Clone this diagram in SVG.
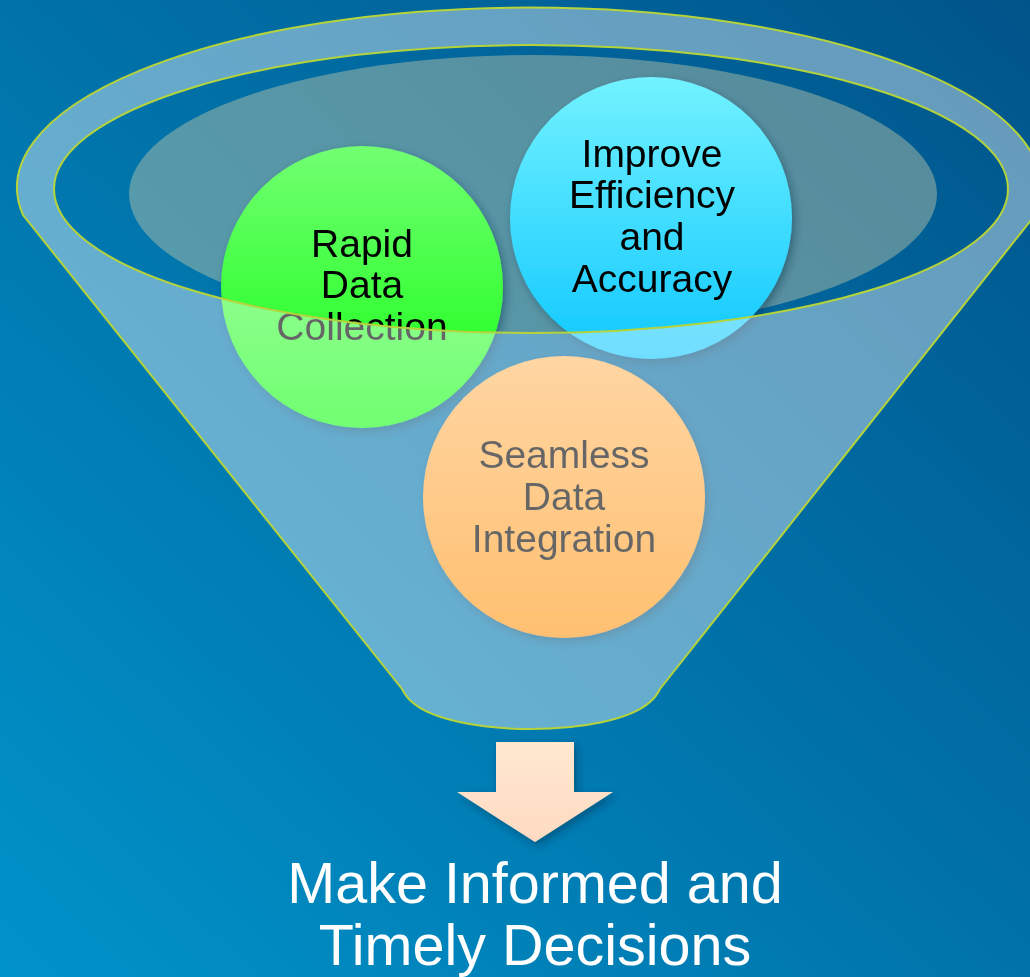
<svg xmlns="http://www.w3.org/2000/svg" width="1030" height="977" viewBox="0 0 1030 977">
  <defs>
    <linearGradient id="bg" x1="0" y1="1" x2="1" y2="0">
      <stop offset="0" stop-color="#0093ca"/>
      <stop offset="0.5" stop-color="#0073aa"/>
      <stop offset="1" stop-color="#00548a"/>
    </linearGradient>
    <linearGradient id="gGreen" x1="0" y1="0" x2="0" y2="1">
      <stop offset="0" stop-color="#72ff72"/>
      <stop offset="1" stop-color="#12ff12"/>
    </linearGradient>
    <linearGradient id="gCyan" x1="0" y1="0" x2="0" y2="1">
      <stop offset="0" stop-color="#72f2ff"/>
      <stop offset="1" stop-color="#10c8ff"/>
    </linearGradient>
    <linearGradient id="gOrange" x1="0" y1="0" x2="0" y2="1">
      <stop offset="0" stop-color="#ffba66"/>
      <stop offset="1" stop-color="#ff9612"/>
    </linearGradient>
    <linearGradient id="gArrow" x1="0" y1="0" x2="0" y2="1">
      <stop offset="0" stop-color="#ffe8d0"/>
      <stop offset="1" stop-color="#ffdac2"/>
    </linearGradient>
    <filter id="shadow" x="-20%" y="-20%" width="140%" height="140%">
      <feDropShadow dx="3" dy="4" stdDeviation="4" flood-color="#002040" flood-opacity="0.4"/>
    </filter>
    <style>
      .lbl { font-family: "Liberation Sans", Arial, sans-serif; font-size: 39px; fill: #000; text-anchor: middle; }
      .big { font-family: "Liberation Sans", Arial, sans-serif; font-size: 57.5px; fill: #fff; text-anchor: middle; }
      .rim { fill: #ffffff; fill-opacity: 0.4; fill-rule: evenodd; stroke: #b5d33a; stroke-width: 2; }
    </style>
  </defs>

  <rect id="background" x="0" y="0" width="1030" height="977" fill="url(#bg)"/>

  <g id="funnel-mouth">
    <ellipse cx="533" cy="194" rx="404" ry="139" fill="#c0c8a8" fill-opacity="0.45"/>
  </g>

  <g id="node-rapid" filter="url(#shadow)">
    <circle cx="362" cy="287" r="141" fill="url(#gGreen)"/>
    <text class="lbl" x="362" y="257">Rapid</text>
    <text class="lbl" x="362" y="298">Data</text>
    <text class="lbl" x="362" y="340">Collection</text>
  </g>

  <g id="node-improve" filter="url(#shadow)">
    <circle cx="651" cy="218" r="141" fill="url(#gCyan)"/>
    <text class="lbl" x="652" y="167">Improve</text>
    <text class="lbl" x="652" y="208">Efficiency</text>
    <text class="lbl" x="652" y="250">and</text>
    <text class="lbl" x="652" y="292">Accuracy</text>
  </g>

  <g id="node-seamless" filter="url(#shadow)">
    <circle cx="564" cy="497" r="141" fill="url(#gOrange)"/>
    <text class="lbl" x="564" y="468">Seamless</text>
    <text class="lbl" x="564" y="510">Data</text>
    <text class="lbl" x="564" y="552">Integration</text>
  </g>

  <g id="funnel-body">
    <path class="rim" d="M23,215 A512,180 0 1 1 1035,215 L660,689 Q656,697 650,702 C610,738 452,738 412,702 Q406,697 402,689 Z M54,189 A477,144 0 1 0 1008,189 A477,144 0 1 0 54,189 Z"/>
  </g>

  <g id="connectors">
    <path d="M496,742 H574 V792 H613 L535,842 L457,792 H496 Z" fill="url(#gArrow)" filter="url(#shadow)"/>
  </g>

  <g id="node-result">
    <text class="big" x="535" y="903">Make Informed and</text>
    <text class="big" x="535" y="965">Timely Decisions</text>
  </g>
</svg>
